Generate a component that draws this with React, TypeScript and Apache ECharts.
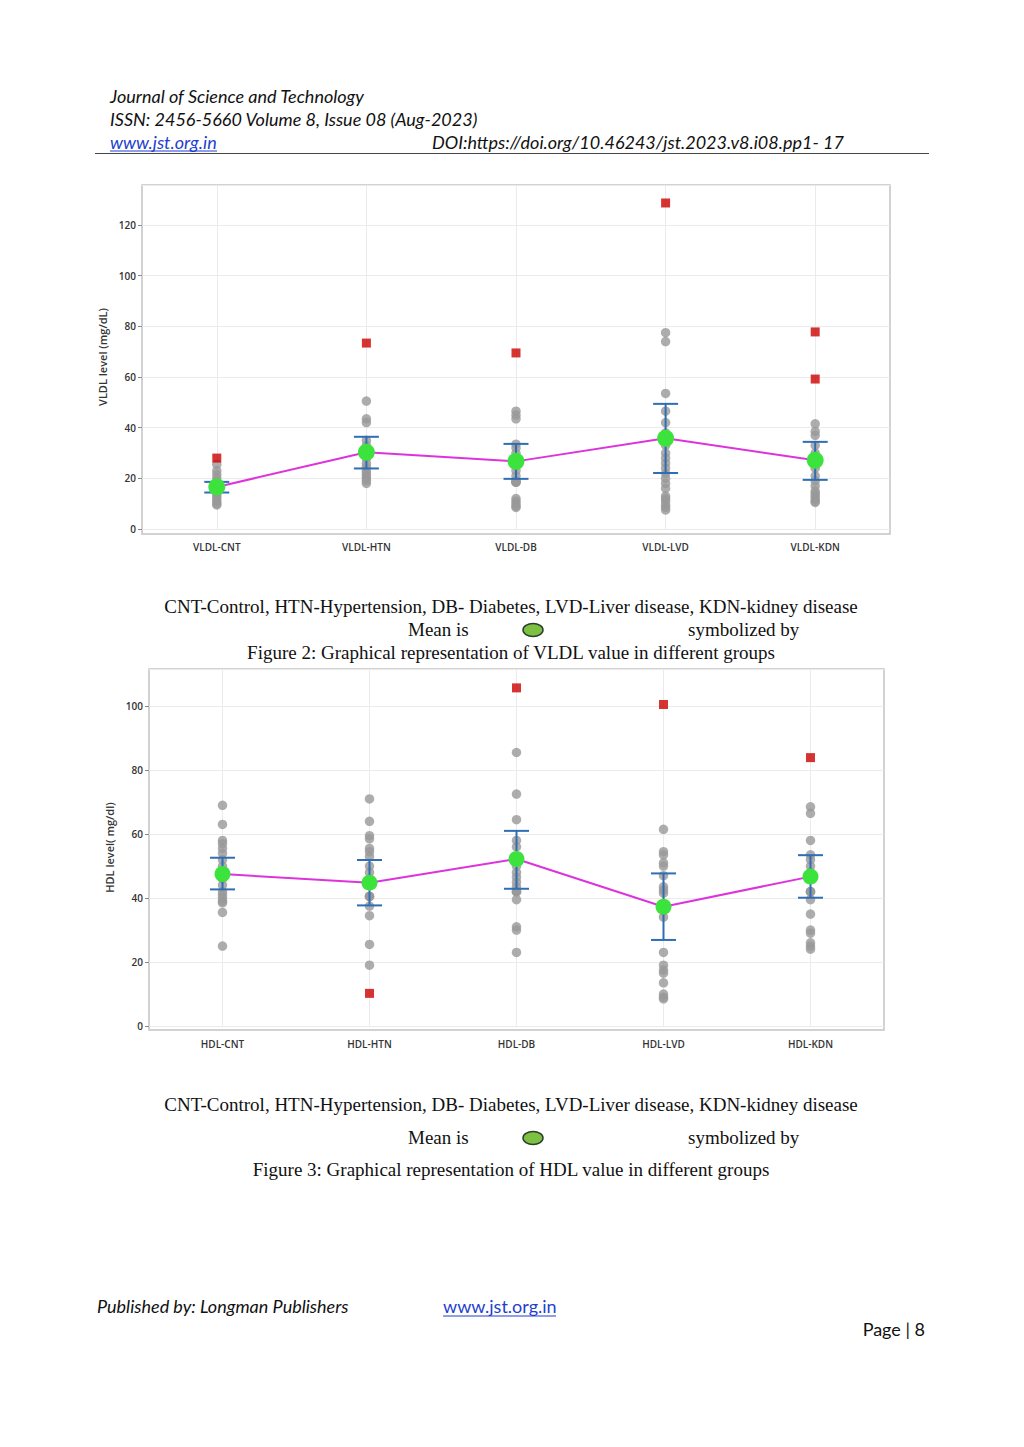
import React, { useEffect, useRef } from 'react';
import * as echarts from 'echarts';

// ---------- Figure 2: VLDL ----------
const vldlCategories = ['VLDL-CNT', 'VLDL-HTN', 'VLDL-DB', 'VLDL-LVD', 'VLDL-KDN'];
const vldlMeans = [16.6, 30.3, 26.7, 35.8, 27.1];
const vldlLow = [14.4, 23.9, 19.8, 22.1, 19.4];
const vldlHigh = [18.6, 36.4, 33.6, 49.4, 34.4];
const vldlCnt = [25.5, 23, 21.5, 20, 18.5, 17, 15.5, 14, 13, 12, 11, 10, 9.5];
const vldlHtn = [50.5, 43.5, 42, 35, 33, 31, 28, 26, 24.5, 23, 22, 21, 20, 19, 18];
const vldlDb = [46.5, 45, 43.5, 33.5, 32, 30, 28, 25, 23, 21, 19, 18.5, 18.5, 18.5, 12, 11, 10, 9, 8.5];
const vldlLvd = [77.5, 74, 53.5, 46.5, 42, 38, 33, 30, 28, 26, 24, 22, 20, 18, 16, 13, 12, 11, 9.5, 8.5, 7.5];
const vldlKdn = [41.5, 38.5, 37, 33, 30, 27, 24, 21, 19, 17, 15, 14, 13, 12, 11, 10.5];
const vldlOutliers = [[28], [73.4], [69.5], [128.7], [77.8, 59.2]];
const vldlTicks = [0, 20, 40, 60, 80, 100, 120];

// ---------- Figure 3: HDL ----------
const hdlCategories = ['HDL-CNT', 'HDL-HTN', 'HDL-DB', 'HDL-LVD', 'HDL-KDN'];
const hdlMeans = [47.5, 44.8, 52.2, 37.3, 46.7];
const hdlLow = [42.7, 37.7, 42.9, 26.9, 40.1];
const hdlHigh = [52.6, 51.9, 61.0, 47.7, 53.4];
const hdlCnt = [69, 63, 58, 57, 55.5, 54, 52, 50, 48, 46, 44, 42, 41, 40, 39, 38.5, 35.5, 25];
const hdlHtn = [71, 64, 59.5, 58.5, 55.5, 54.5, 53, 50, 48, 46, 40.5, 40.5, 40.5, 37.5, 34.5, 25.5, 19];
const hdlDb = [85.5, 72.5, 64.5, 58, 56, 50, 48, 46.5, 45, 43.5, 42, 42, 42, 39.5, 31, 30, 23];
const hdlLvd = [61.5, 54.5, 53.5, 51, 50, 47, 43.5, 42.5, 41.5, 38, 36, 34, 23, 19, 17.5, 16.5, 13.5, 10, 9, 8.5];
const hdlKdn = [68.5, 66.5, 58, 53.5, 52, 50, 48, 46, 42, 42, 42, 39.5, 35, 30, 29, 26, 25, 24];
const hdlOutliers = [[], [10.2], [105.7], [100.5], [83.9]];
const hdlTicks = [0, 20, 40, 60, 80, 100];

const captionLegend = 'CNT-Control, HTN-Hypertension, DB- Diabetes, LVD-Liver disease, KDN-kidney disease';

function flatten(groups: number[][]): number[][] {
  const out: number[][] = [];
  groups.forEach((g, i) => g.forEach((v) => out.push([i, v])));
  return out;
}

function ranges(low: number[], high: number[]): number[][] {
  return low.map((l, i) => [i, l, high[i]]);
}

const GRAY = '#999999';
const RED = '#cc0000';
const BLUE = '#2f6db5';
const GREEN = '#3de33d';
const MAGENTA = '#dd33dd';
const GRIDLINE = '#ebebeb';

const errorRender = (_params: any, api: any) => {
  const x = api.value(0);
  const lo = api.coord([x, api.value(1)]);
  const hi = api.coord([x, api.value(2)]);
  const hw = 12.5;
  const style = { stroke: BLUE, lineWidth: 2 };
  return {
    type: 'group',
    children: [
      { type: 'line', shape: { x1: lo[0], y1: lo[1], x2: hi[0], y2: hi[1] }, style },
      { type: 'line', shape: { x1: lo[0] - hw, y1: lo[1], x2: lo[0] + hw, y2: lo[1] }, style },
      { type: 'line', shape: { x1: hi[0] - hw, y1: hi[1], x2: hi[0] + hw, y2: hi[1] }, style },
    ],
  };
};

function makeSeries(idx: number, cats: string[], points: number[][], outliers: number[][], low: number[], high: number[], means: number[], meanSize: number) {
  return [
    {
      type: 'scatter', xAxisIndex: idx, yAxisIndex: idx, data: flatten(points),
      symbol: 'circle', symbolSize: 9.5, itemStyle: { color: GRAY }, z: 2, clip: false,
      markLine: {
        silent: true, symbol: 'none', label: { show: false }, z: 0,
        lineStyle: { color: GRIDLINE, type: 'solid', width: 1 },
        data: cats.map((c) => ({ xAxis: c })),
      },
    },
    {
      type: 'scatter', xAxisIndex: idx, yAxisIndex: idx, data: flatten(outliers),
      symbol: 'rect', symbolSize: 9, itemStyle: { color: RED }, z: 3, clip: false,
    },
    {
      type: 'custom', xAxisIndex: idx, yAxisIndex: idx, data: ranges(low, high),
      renderItem: errorRender, encode: { x: 0, y: [1, 2] }, z: 4,
    },
    {
      type: 'line', xAxisIndex: idx, yAxisIndex: idx, data: means,
      symbol: 'circle', symbolSize: meanSize, showSymbol: true,
      itemStyle: { color: GREEN, borderWidth: 0 },
      lineStyle: { color: MAGENTA, width: 2 }, z: 5,
    },
  ];
}

const serif = '"Liberation Serif", "Times New Roman", serif';
const calibri = 'Lato, "Open Sans", sans-serif';

function txt(text: string, x: number, y: number, opts: any = {}) {
  return {
    type: 'text', x, y, silent: true,
    style: {
      text, fill: opts.fill || '#111',
      font: opts.font || `19px ${serif}`,
      textAlign: opts.align || 'left', textVerticalAlign: 'middle',
    },
  };
}

function hline(x1: number, x2: number, y: number, color: string, w = 1) {
  return { type: 'line', silent: true, shape: { x1, y1: y, x2, y2: y }, style: { stroke: color, lineWidth: w } };
}

export default function App() {
  const ref = useRef<HTMLDivElement>(null);
  useEffect(() => {
    if (!ref.current) return;
    const chart = echarts.init(ref.current, undefined, { renderer: 'svg' });
    const tickLabel = { color: '#333', fontSize: 10, fontFamily: '"Open Sans", sans-serif' };
    const nameStyle = { color: '#333', fontSize: 11, fontFamily: '"Open Sans", sans-serif', fontWeight: 600 };
    const option: any = {
      animation: false,
      backgroundColor: '#fff',
      grid: [
        { left: 142, right: 134, top: 185, bottom: 918, containLabel: false },
        { left: 149, right: 140, top: 669, bottom: 421, containLabel: false },
      ],
      xAxis: [
        {
          type: 'category', gridIndex: 0, data: vldlCategories, boundaryGap: true,
          axisLine: { show: false }, axisTick: { show: false },
          axisLabel: { ...tickLabel, fontWeight: 600, margin: 13 },
          splitLine: { show: false },
        },
        {
          type: 'category', gridIndex: 1, data: hdlCategories, boundaryGap: true,
          axisLine: { show: false }, axisTick: { show: false },
          axisLabel: { ...tickLabel, fontWeight: 600, margin: 13 },
          splitLine: { show: false },
        },
      ],
      yAxis: [
        {
          type: 'value', gridIndex: 0, min: vldlTicks[0], max: 135.8, interval: 20,
          axisLine: { show: false },
          axisTick: { show: true, length: 4, lineStyle: { color: '#888' } },
          axisLabel: { ...tickLabel, fontWeight: 600, margin: 6, showMaxLabel: false,
            formatter: (v: number) => (vldlTicks.includes(v) ? String(v) : '') },
          splitLine: { show: true, lineStyle: { color: GRIDLINE } },
          name: 'VLDL level (mg/dL)', nameLocation: 'middle', nameGap: 31,
          nameTextStyle: nameStyle,
        },
        {
          type: 'value', gridIndex: 1, min: hdlTicks[0], max: 111.6, interval: 20,
          axisLine: { show: false },
          axisTick: { show: true, length: 4, lineStyle: { color: '#888' } },
          axisLabel: { ...tickLabel, fontWeight: 600, margin: 6, showMaxLabel: false,
            formatter: (v: number) => (hdlTicks.includes(v) ? String(v) : '') },
          splitLine: { show: true, lineStyle: { color: GRIDLINE } },
          name: 'HDL level( mg/dl)', nameLocation: 'middle', nameGap: 29,
          nameTextStyle: nameStyle,
        },
      ],
      series: [
        ...makeSeries(0, vldlCategories, [vldlCnt, vldlHtn, vldlDb, vldlLvd, vldlKdn], vldlOutliers, vldlLow, vldlHigh, vldlMeans, 17),
        ...makeSeries(1, hdlCategories, [hdlCnt, hdlHtn, hdlDb, hdlLvd, hdlKdn], hdlOutliers, hdlLow, hdlHigh, hdlMeans, 16),
      ],
      graphic: [
        // frames
        { type: 'rect', silent: true, z: -1, shape: { x: 142, y: 185, width: 748, height: 349 },
          style: { fill: 'none', stroke: '#c4c4c4', lineWidth: 1.5 } },
        { type: 'rect', silent: true, z: -1, shape: { x: 149, y: 669, width: 735, height: 361 },
          style: { fill: 'none', stroke: '#c4c4c4', lineWidth: 1.5 } },
        // header
        txt('Journal of Science and Technology', 110, 96, { font: `italic 18px ${calibri}` }),
        txt('ISSN: 2456-5660 Volume 8, Issue 08 (Aug-2023)', 110, 119, { font: `italic 18px ${calibri}` }),
        txt('www.jst.org.in', 110, 142, { font: `italic 18px ${calibri}`, fill: '#1f3fd0' }),
        hline(110, 217, 151, '#1f3fd0', 1),
        txt('DOI:https://doi.org/10.46243/jst.2023.v8.i08.pp1- 17', 432, 142, { font: `italic 18px ${calibri}` }),
        hline(95, 929, 153.5, '#444', 1),
        // captions figure 2
        txt(captionLegend, 511, 606, { align: 'center' }),
        txt('Mean is', 408, 629),
        { type: 'ellipse', silent: true, shape: { cx: 533, cy: 630, rx: 10, ry: 6.5 },
          style: { fill: '#7cc142', stroke: '#2d3d2d', lineWidth: 1.5 } },
        txt('symbolized by', 688, 629),
        txt('Figure 2: Graphical representation of VLDL value in different groups', 511, 652, { align: 'center' }),
        // captions figure 3
        txt(captionLegend, 511, 1104, { align: 'center' }),
        txt('Mean is', 408, 1137),
        { type: 'ellipse', silent: true, shape: { cx: 533, cy: 1138, rx: 10, ry: 6.5 },
          style: { fill: '#7cc142', stroke: '#2d3d2d', lineWidth: 1.5 } },
        txt('symbolized by', 688, 1137),
        txt('Figure 3: Graphical representation of HDL value in different groups', 511, 1169, { align: 'center' }),
        // footer
        txt('Published by: Longman Publishers', 97, 1306, { font: `italic 18px ${calibri}` }),
        txt('www.jst.org.in', 443, 1306, { font: `18px ${calibri}`, fill: '#1f3fd0' }),
        hline(443, 556, 1316, '#1f3fd0', 1),
        txt('Page | 8', 925, 1329, { font: `18px ${calibri}`, align: 'right' }),
      ],
    };
    chart.setOption(option);
    return () => chart.dispose();
  }, []);
  return (
    <div
      ref={ref}
      style={{ position: 'absolute', left: 0, top: 0, width: 1024, height: 1447, background: '#fff' }}
    />
  );
}
